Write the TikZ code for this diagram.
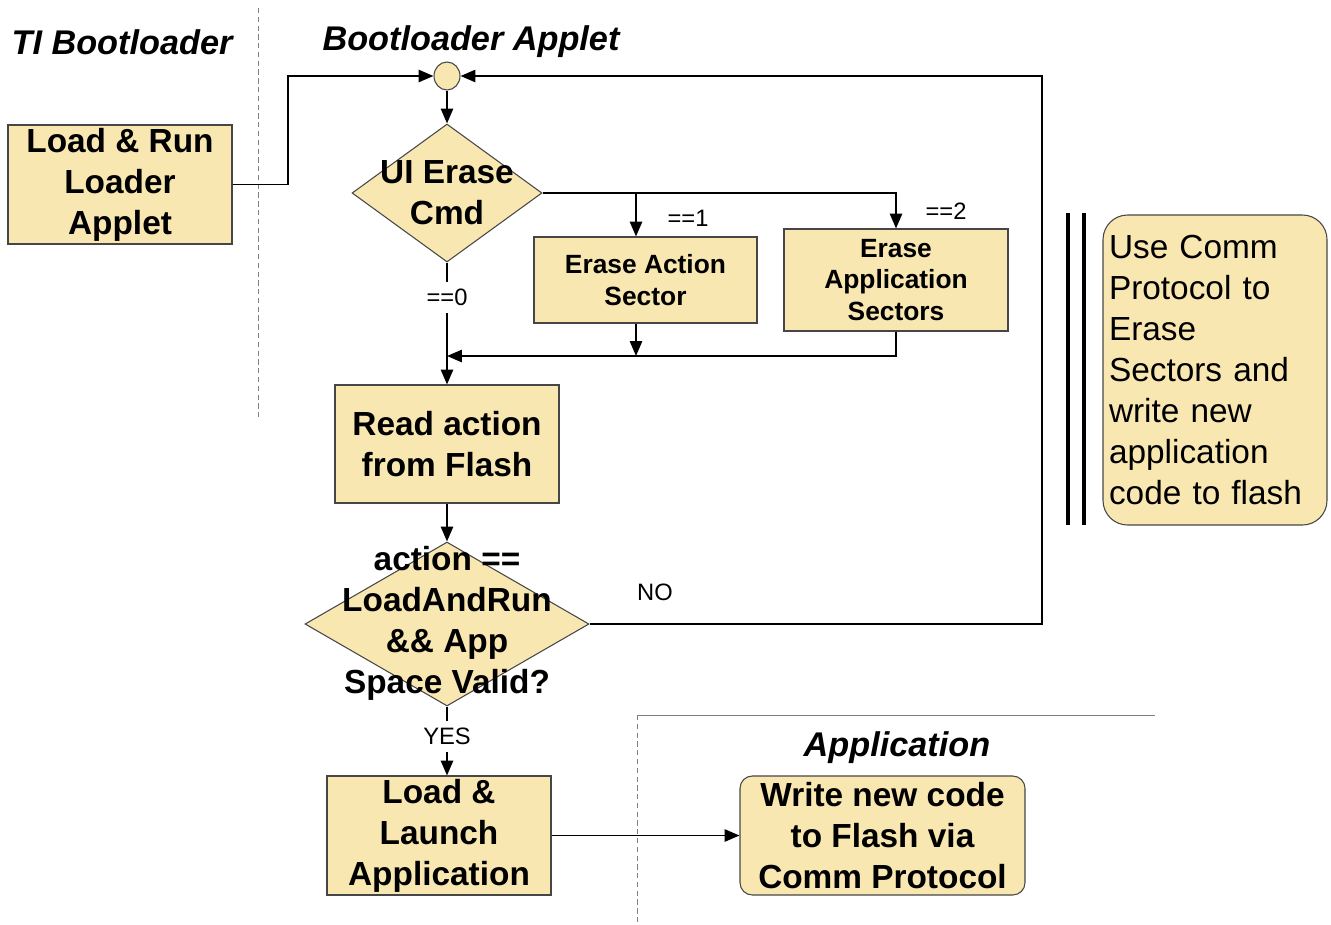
\documentclass[tikz,border=0pt]{standalone}
\usepackage{fontspec}
\setmainfont{Liberation Sans}
\usetikzlibrary{shapes.geometric,arrows.meta,calc}
\definecolor{boxfill}{RGB}{248,231,177}
\definecolor{boxline}{RGB}{70,70,70}
\def\pxu{0.02cm}
\def\fbig{\fontsize{19}{23.3}\selectfont}
\def\fmid{\fontsize{15}{18.1}\selectfont}
\def\flbl{\fontsize{13.5}{16}\selectfont}
\def\fhead{\fontsize{19.5}{23}\selectfont}
\begin{document}
\begin{tikzpicture}[x=0.02cm,y=-0.02cm,
  box/.style={draw=boxline,fill=boxfill,line width=0.6pt,inner sep=0pt,align=center,font=\fbig\bfseries},
  mbox/.style={box,font=\fmid\bfseries},
  dia/.style={diamond,draw=boxline,fill=boxfill,line width=0.6pt,inner sep=0pt},
  dtext/.style={align=center,font=\fbig\bfseries,inner sep=0pt},
  circ/.style={ellipse,draw=boxline,fill=boxfill,line width=0.6pt,inner sep=0pt,minimum width=26*\pxu,minimum height=28*\pxu},
  note/.style={draw=boxline,fill=boxfill,line width=0.6pt,rounded corners=14pt,inner sep=0pt,align=left,text width=212*\pxu,font=\fbig},
  lbl/.style={font=\flbl,inner sep=3pt},
  head/.style={font=\fhead\bfseries\itshape},
  arr/.style={line width=1.1pt,-{Triangle[length=8.5pt,width=7pt]}},
  sep/.style={gray,line width=0.5pt,densely dashed}
]
\useasboundingbox (0,0) rectangle (1331,924);

% separators
\draw[sep] (258,8) -- (258,420);
\draw[sep] (637,715) -- (637,924);
\draw[gray,line width=0.5pt] (637,715) -- (1155,715);

% headings
\node[head] (h1) at (122,42) {TI Bootloader};
\node[head] (h2) at (471,42) {Bootloader Applet};
\node[head] (h3) at (897,748) {Application};

% nodes
\node[box,minimum width=224*\pxu,minimum height=119*\pxu] (load) at (120,184.5) {Load \& Run\\Loader\\Applet};
\node[circ] (circ) at (447,76) {};
\node[dia,minimum width=190*\pxu,minimum height=138*\pxu] (d1) at (447,193) {};
\node[mbox,minimum width=223*\pxu,minimum height=86*\pxu] (e1) at (645.5,280) {Erase Action\\Sector};
\node[mbox,minimum width=224*\pxu,minimum height=102*\pxu] (e2) at (896,280) {Erase\\Application\\Sectors};
\node[box,minimum width=224*\pxu,minimum height=118*\pxu] (read) at (447,444) {Read action\\from Flash};
\node[dia,minimum width=284*\pxu,minimum height=164*\pxu] (d2) at (447,624) {};
\node[box,minimum width=224*\pxu,minimum height=119*\pxu] (launch) at (439,835.5) {Load \&\\Launch\\Application};
\node[box,rounded corners=7pt,minimum width=285*\pxu,minimum height=119*\pxu] (write) at (882.5,835.5) {Write new code\\to Flash via\\Comm Protocol};
\node[note,minimum width=224*\pxu,minimum height=310*\pxu] (note) at (1215,370) {Use Comm\\Protocol to\\Erase\\Sectors and\\write new\\application\\code to flash};

% double bar
\draw[line width=2.2pt] (1068,213) -- (1068,525);
\draw[line width=2.2pt] (1084,213) -- (1084,525);

% helper coordinates
\coordinate (turn) at (288,0);
\coordinate (b1x) at (636,0);
\coordinate (merge) at (447,356);
\coordinate (loopc) at (1042,76);

% connectors
\draw[arr] (load.east) -- (load.east -| turn) |- (circ.west);
\draw[arr] (d2.east) -| (loopc) -- (circ.east);
\draw[arr] (circ.south) -- (d1.north);
\draw[arr] (d1.east) -| (e2.north);
\draw[arr] (d1.east -| b1x) -- (b1x |- e1.north);
\draw[arr] (b1x |- e1.south) -- (b1x |- merge);
\draw[arr] (e2.south) |- (merge);
\draw[arr] (d1.south) -- (read.north) node[lbl,pos=0.285,fill=white,inner sep=4pt] {==0};
\draw[arr] (read.south) -- (d2.north);
\draw[arr] (d2.south) -- (d2.south |- launch.north) node[lbl,pos=0.43,fill=white,inner sep=4pt] {YES};
\draw[arr] (launch.east) -- (write.west);

% labels
\node[lbl,fill=white] (no) at (655,592) {NO};
\node[lbl] (l1) at (688,218) {==1};
\node[lbl] (l2) at (946,211) {==2};

% diamond texts
\node[dtext] (d1t) at (447,193) {UI Erase\\Cmd};
\node[dtext] (d2t) at (447,623.5) {action ==\\LoadAndRun\\\&\& App\\Space Valid?};
\end{tikzpicture}
\end{document}
